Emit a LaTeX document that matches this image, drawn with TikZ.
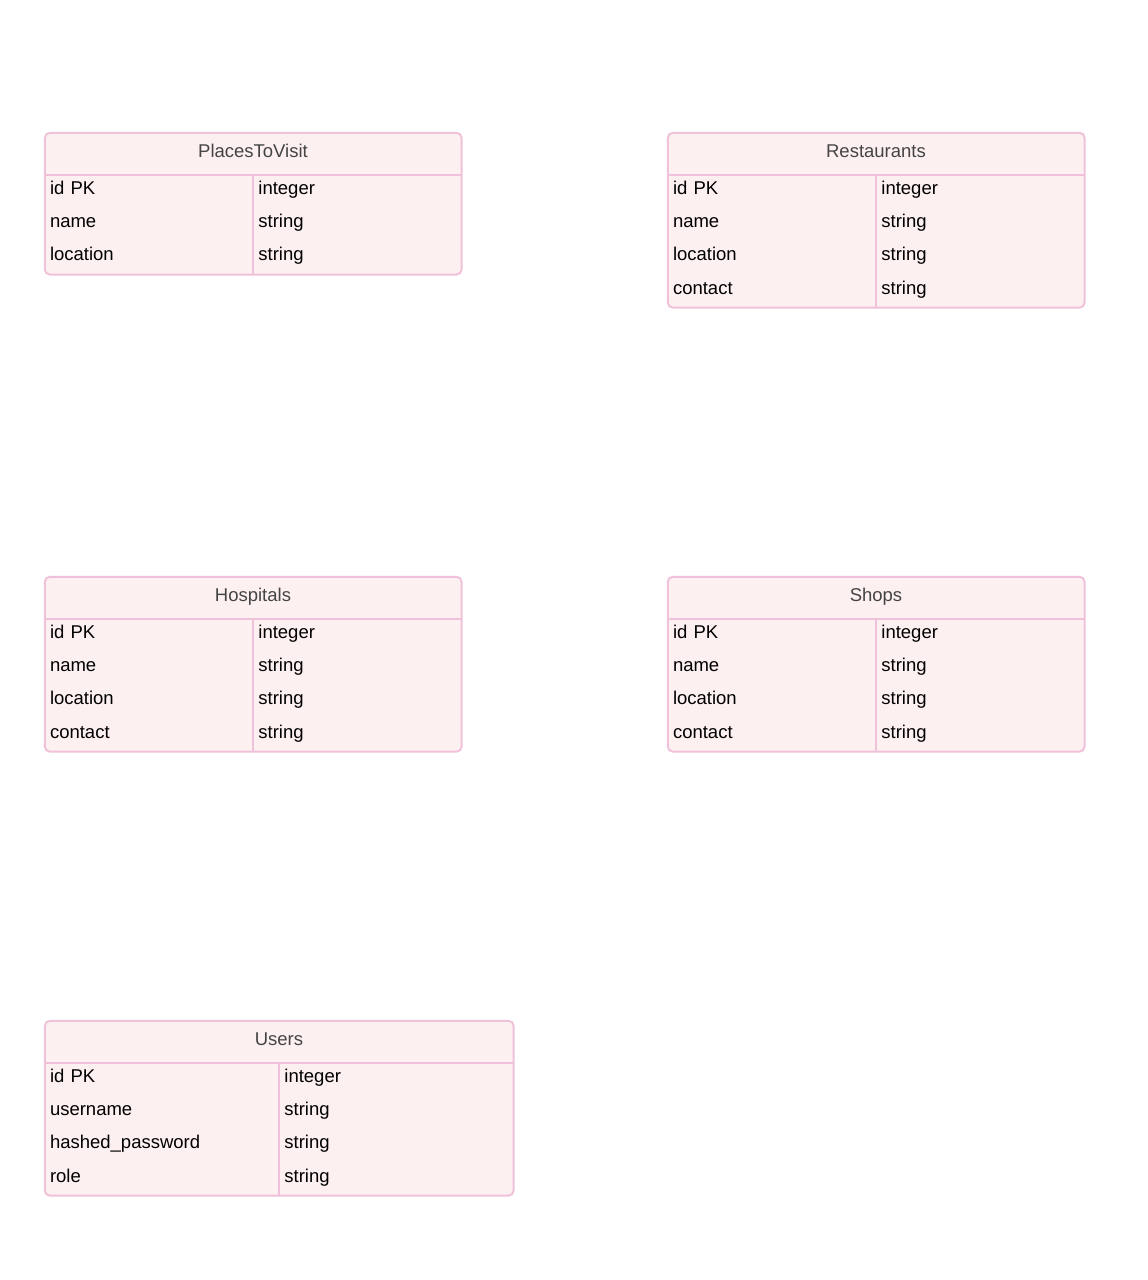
\documentclass[tikz,border=0pt]{standalone}
\usepackage{fontspec}
\setmainfont{Liberation Sans}
\usetikzlibrary{positioning, backgrounds}
\definecolor{tablefill}{RGB}{253,240,241}
\definecolor{tableline}{RGB}{240,194,218}
\definecolor{titletext}{RGB}{68,68,68}

\begin{document}
\begin{tikzpicture}[
    x=1pt, y=-1pt,
    every node/.style={font=\fontsize{18.5}{22}\selectfont, text height=13pt, text depth=7pt},
    tabletitle/.style={rectangle, minimum height=42pt, inner sep=0pt, text=titletext},
    cell/.style={rectangle, minimum height=32.7pt, inner xsep=5pt, inner ysep=0pt, text width=#1, align=left},
    cell/.default=198pt,
    tablebox/.style={draw=tableline, fill=tablefill, line width=2pt, rounded corners=5pt},
    tablesep/.style={draw=tableline, line width=2pt}
]
\useasboundingbox (0,0) rectangle (1148,1280);

% PlacesToVisit
\node[tabletitle, minimum width=416pt] (places) at (253,154) {PlacesToVisit};
\node[cell, anchor=north west] (places_k1) at (places.south west) {id PK};
\node[cell, below=0pt of places_k1] (places_k2) {name};
\node[cell, below=0pt of places_k2] (places_k3) {location};
\node[cell, right=0pt of places_k1] (places_t1) {integer};
\node[cell, right=0pt of places_k2] (places_t2) {string};
\node[cell, right=0pt of places_k3] (places_t3) {string};

% Restaurants
\node[tabletitle, minimum width=416pt] (restaurants) at (876,154) {Restaurants};
\node[cell, anchor=north west] (restaurants_k1) at (restaurants.south west) {id PK};
\node[cell, below=0pt of restaurants_k1] (restaurants_k2) {name};
\node[cell, below=0pt of restaurants_k2] (restaurants_k3) {location};
\node[cell, below=0pt of restaurants_k3] (restaurants_k4) {contact};
\node[cell, right=0pt of restaurants_k1] (restaurants_t1) {integer};
\node[cell, right=0pt of restaurants_k2] (restaurants_t2) {string};
\node[cell, right=0pt of restaurants_k3] (restaurants_t3) {string};
\node[cell, right=0pt of restaurants_k4] (restaurants_t4) {string};

% Hospitals
\node[tabletitle, minimum width=416pt] (hospitals) at (253,598) {Hospitals};
\node[cell, anchor=north west] (hospitals_k1) at (hospitals.south west) {id PK};
\node[cell, below=0pt of hospitals_k1] (hospitals_k2) {name};
\node[cell, below=0pt of hospitals_k2] (hospitals_k3) {location};
\node[cell, below=0pt of hospitals_k3] (hospitals_k4) {contact};
\node[cell, right=0pt of hospitals_k1] (hospitals_t1) {integer};
\node[cell, right=0pt of hospitals_k2] (hospitals_t2) {string};
\node[cell, right=0pt of hospitals_k3] (hospitals_t3) {string};
\node[cell, right=0pt of hospitals_k4] (hospitals_t4) {string};

% Shops
\node[tabletitle, minimum width=416pt] (shops) at (876,598) {Shops};
\node[cell, anchor=north west] (shops_k1) at (shops.south west) {id PK};
\node[cell, below=0pt of shops_k1] (shops_k2) {name};
\node[cell, below=0pt of shops_k2] (shops_k3) {location};
\node[cell, below=0pt of shops_k3] (shops_k4) {contact};
\node[cell, right=0pt of shops_k1] (shops_t1) {integer};
\node[cell, right=0pt of shops_k2] (shops_t2) {string};
\node[cell, right=0pt of shops_k3] (shops_t3) {string};
\node[cell, right=0pt of shops_k4] (shops_t4) {string};

% Users
\node[tabletitle, minimum width=468pt] (users) at (279,1042) {Users};
\node[cell=224pt, anchor=north west] (users_k1) at (users.south west) {id PK};
\node[cell=224pt, below=0pt of users_k1] (users_k2) {username};
\node[cell=224pt, below=0pt of users_k2] (users_k3) {hashed\_password};
\node[cell=224pt, below=0pt of users_k3] (users_k4) {role};
\node[cell=224pt, right=0pt of users_k1] (users_t1) {integer};
\node[cell=224pt, right=0pt of users_k2] (users_t2) {string};
\node[cell=224pt, right=0pt of users_k3] (users_t3) {string};
\node[cell=224pt, right=0pt of users_k4] (users_t4) {string};

% Trennlinien
\draw[tablesep] (places.south west) -- (places.south east);
\draw[tablesep] (places_k1.north east) -- (places_k3.south east);
\draw[tablesep] (restaurants.south west) -- (restaurants.south east);
\draw[tablesep] (restaurants_k1.north east) -- (restaurants_k4.south east);
\draw[tablesep] (hospitals.south west) -- (hospitals.south east);
\draw[tablesep] (hospitals_k1.north east) -- (hospitals_k4.south east);
\draw[tablesep] (shops.south west) -- (shops.south east);
\draw[tablesep] (shops_k1.north east) -- (shops_k4.south east);
\draw[tablesep] (users.south west) -- (users.south east);
\draw[tablesep] (users_k1.north east) -- (users_k4.south east);

% Tabellenrahmen
\begin{scope}[on background layer]
\draw[tablebox] (places.north west) rectangle (places_t3.south east);
\draw[tablebox] (restaurants.north west) rectangle (restaurants_t4.south east);
\draw[tablebox] (hospitals.north west) rectangle (hospitals_t4.south east);
\draw[tablebox] (shops.north west) rectangle (shops_t4.south east);
\draw[tablebox] (users.north west) rectangle (users_t4.south east);
\end{scope}

\end{tikzpicture}
\end{document}
